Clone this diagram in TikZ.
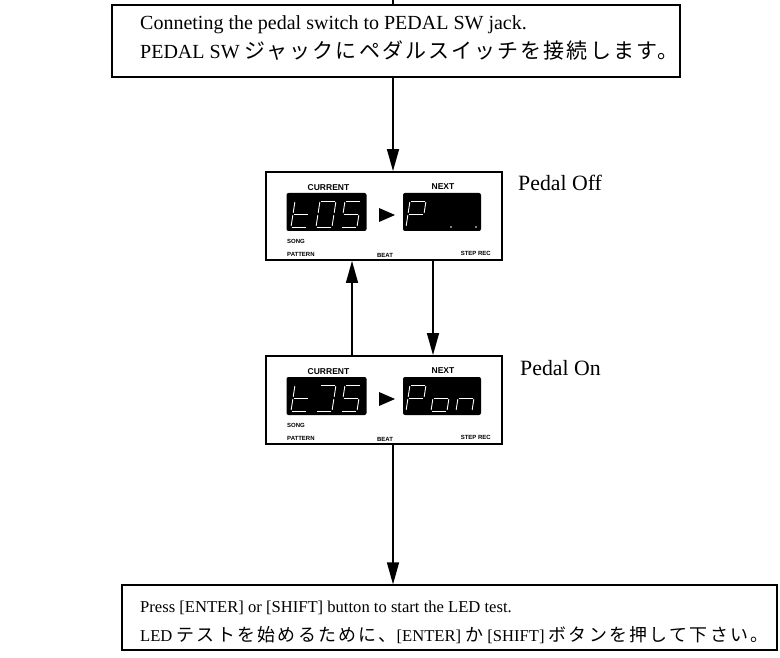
\documentclass[tikz,border=0pt]{standalone}
\usepackage{fontspec}
\setmainfont{Liberation Serif}
\newfontfamily\jp[Scale=1.05,LetterSpace=10]{Noto Sans CJK JP}
\newfontfamily\jpb[Scale=1.08,LetterSpace=13]{Noto Sans CJK JP}
\newfontfamily\lsans{Liberation Sans}
\usetikzlibrary{arrows.meta}
\tikzset{
  box/.style={draw=black, line width=1.3pt, inner sep=0pt},
  panel/.style={draw=black, line width=1.8pt, inner sep=0pt, minimum width=236pt, minimum height=88pt},
  disp/.style={fill=black, rounded corners=2pt, inner sep=0pt, minimum width=80pt, minimum height=38pt},
  seg/.style={draw=white, line width=0.9pt, shorten >=1.3pt, shorten <=1.3pt, line cap=round},
  conn/.style={line width=1.3pt},
  arr/.style={conn, -{Triangle[length=22pt,width=12pt]}},
  big/.style={font=\fontsize{20}{24}\selectfont, inner sep=0pt, anchor=base west},
  small/.style={font=\fontsize{16.6}{20}\selectfont, inner sep=0pt, anchor=base west},
  lbl/.style={font=\lsans\bfseries\fontsize{8.5}{9}\selectfont, inner sep=0pt},
  tiny/.style={font=\lsans\bfseries\fontsize{6}{7}\selectfont, inner sep=0pt},
  pedal/.style={font=\fontsize{21.8}{26}\selectfont, inner sep=0pt, anchor=west},
}
\newcommand\sevseg[3]{%
  \begin{scope}[shift={(#1,#2)}]
    \coordinate (a1) at (4,-26); \coordinate (a2) at (20,-26);
    \coordinate (b1) at (20,-26); \coordinate (b2) at (18,-13);
    \coordinate (c1) at (18,-13); \coordinate (c2) at (16,0);
    \coordinate (d1) at (0,0);    \coordinate (d2) at (16,0);
    \coordinate (e1) at (2,-13);  \coordinate (e2) at (0,0);
    \coordinate (f1) at (4,-26);  \coordinate (f2) at (2,-13);
    \coordinate (g1) at (2,-13);  \coordinate (g2) at (18,-13);
    \foreach \s in {#3} {\draw[seg] (\s1) -- (\s2);}
  \end{scope}}
\newcommand\pnl[6]{% name, y-center, digits of next display
  \node[panel] (#1) at (384,#2) {};
  \node[disp] (#1c) at (326.5,#2-4) {};
  \node[disp, minimum width=78pt] (#1n) at (442,#2-4) {};
  \node[lbl] (#1cl) at (328.5,#2-28) {CURRENT};
  \node[lbl] (#1nl) at (443,#2-29) {NEXT};
  \node[tiny, anchor=west] (#1s) at (287,#2+25) {SONG};
  \node[tiny, anchor=west] (#1p) at (287,#2+38) {PATTERN};
  \node[tiny] (#1b) at (385,#2+39) {BEAT};
  \node[tiny, anchor=east] (#1r) at (491,#2+37.5) {STEP REC};
  \fill[black] (379,#2-8) -- (379,#2+6) -- (395,#2-1) -- cycle;
  \sevseg{291}{#2+11}{f,e,g,d}
  \sevseg{316}{#2+11}{#3}
  \sevseg{341}{#2+11}{a,f,g,c,d}
  \sevseg{406}{#2+11}{a,b,f,g,e}
  \sevseg{431}{#2+11}{#4}
  \sevseg{456}{#2+11}{#5}
  #6
}
\begin{document}
\begin{tikzpicture}[x=1pt,y=-1pt]
\useasboundingbox (0,0) rectangle (780,658);
\fill[white] (0,0) rectangle (780,658);
% top box
\node[box, minimum width=568pt, minimum height=72pt] (top) at (396,41) {};
\node[big] (t1) at (140,30) {Conneting the pedal switch to PEDAL SW jack.};
\node[big] (t2) at (140,59) {PEDAL SW {\jp ジャックにペダルスイッチを接続します。}};
% panels
\pnl{pa}{216}{a,b,c,d,e,f}{}{}{\fill[white] (451,227) circle (0.9pt) (476,227) circle (0.9pt);}
\pnl{pb}{400}{a,b,c,d}{g,c,d,e}{g,c,e}{}
\node[pedal] (off) at (518,183) {Pedal Off};
\node[pedal] (on) at (520,368) {Pedal On};
% bottom box
\node[box, minimum width=655pt, minimum height=65pt] (bot) at (449.5,617.5) {};
\node[small] (u1) at (140,612) {Press [ENTER] or [SHIFT] button to start the LED test.};
\node[small] (u2) at (140,641) {LED {\jpb テストを始めるために、}[ENTER] {\jpb か} [SHIFT] {\jpb ボタンを押して下さい。}};
% connectors
\coordinate (ax) at (393,0);
\coordinate (ux) at (352,0);
\coordinate (dx) at (433,0);
\draw[conn] (ax) -- (ax |- top.north);
\draw[arr] (ax |- top.south) -- (ax |- pa.north);
\draw[arr] (ux |- pb.north) -- (ux |- pa.south);
\draw[arr] (dx |- pa.south) -- (dx |- pb.north);
\draw[arr] (ax |- pb.south) -- (ax |- bot.north);
\end{tikzpicture}
\end{document}
